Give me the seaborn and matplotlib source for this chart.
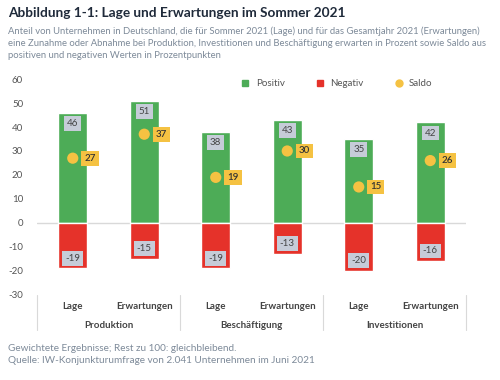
import numpy as np
import pandas as pd
import matplotlib
matplotlib.use("Agg")
import matplotlib.pyplot as plt
from matplotlib.lines import Line2D
from matplotlib.transforms import blended_transform_factory
import seaborn as sns

# data
groups = ["Produktion", "Beschäftigung", "Investitionen"]
subcats = ["Lage", "Erwartungen"]
positiv = [46, 51, 38, 43, 35, 42]
negativ = [-19, -15, -19, -13, -20, -16]
saldo = [27, 37, 19, 30, 15, 26]
yticks = [-30, -20, -10, 0, 10, 20, 30, 40, 50, 60]

GREEN = "#4dac57"
RED = "#e5322a"
YELLOW = "#f5c242"
BOXGRAY = "#c6ccd8"
TITLE = "#1f2a3a"
GRAYTXT = "#7d8a99"
AXTXT = "#555555"

sns.set_theme(style="white")
plt.rcParams["font.family"] = ["Lato", "DejaVu Sans"]

keys = [f"{g}|{c}" for g in groups for c in subcats]
df = pd.DataFrame({"key": keys, "positiv": positiv, "negativ": negativ, "saldo": saldo})

fig = plt.figure(figsize=(5, 3.8), dpi=100)
ax = fig.add_axes([0.074, 0.224, 0.858, 0.568])

sns.barplot(data=df, x="key", y="positiv", color=GREEN, width=0.4, ax=ax,
            saturation=1, zorder=2)
sns.barplot(data=df, x="key", y="negativ", color=RED, width=0.4, ax=ax,
            saturation=1, zorder=2)
sns.scatterplot(data=df, x="key", y="saldo", color=YELLOW, s=65, ax=ax,
                edgecolor="none", zorder=4)

ax.set_xlim(-0.5, len(keys) - 0.5)
ax.set_ylim(-30, 60)
ax.set_yticks(yticks)
ax.set_yticklabels([str(t) for t in yticks], fontsize=7, color=AXTXT)
ax.tick_params(axis="y", length=0, pad=10)
ax.set_xticks([])
ax.set_xlabel("")
ax.set_ylabel("")
for s in ax.spines.values():
    s.set_visible(False)
ax.axhline(0, color="#d9d9d9", lw=1, zorder=1)

# value labels
for i in range(len(keys)):
    ax.text(i, positiv[i] - 4.5, str(positiv[i]), ha="center", va="center",
            fontsize=7, color="#444444", zorder=5,
            bbox=dict(boxstyle="square,pad=0.3", fc=BOXGRAY, ec="none"))
    ax.text(i, negativ[i] + 4.3, str(negativ[i]), ha="center", va="center",
            fontsize=7, color="#444444", zorder=5,
            bbox=dict(boxstyle="square,pad=0.3", fc=BOXGRAY, ec="none"))
    ax.text(i + 0.24, saldo[i], str(saldo[i]), ha="center", va="center",
            fontsize=7, color="#333333", fontweight="semibold", zorder=5,
            bbox=dict(boxstyle="square,pad=0.3", fc=YELLOW, ec="none"))

# category axis below the plot
tr = blended_transform_factory(ax.transData, ax.transAxes)
for i in range(len(keys)):
    ax.text(i, -0.056, subcats[i % 2], transform=tr, ha="center", va="center",
            fontsize=7, color="#444444", fontweight="bold")
for g, name in enumerate(groups):
    ax.text(2 * g + 0.5, -0.14, name, transform=tr, ha="center", va="center",
            fontsize=7, color="#444444", fontweight="bold")
for xb in [-0.5, 1.5, 3.5, 5.5]:
    ax.plot([xb, xb], [0, -0.162], transform=tr, color="#d9d9d9", lw=0.8,
            clip_on=False)

# legend
handles = [
    Line2D([], [], marker="s", ls="", color=GREEN, markersize=5),
    Line2D([], [], marker="s", ls="", color=RED, markersize=5),
    Line2D([], [], marker="o", ls="", color=YELLOW, markersize=5),
]
fig.legend(handles, ["Positiv", "Negativ", "Saldo"], loc="center",
           bbox_to_anchor=(0.668, 0.779), ncol=3, frameon=False, fontsize=7,
           handletextpad=0.1, columnspacing=2.6, labelcolor="#555555")

# titles and notes
fig.text(0.016, 0.965, "Abbildung 1-1: Lage und Erwartungen im Sommer 2021",
         fontsize=9.8, fontweight="bold", color=TITLE, va="center")
fig.text(0.016, 0.887,
         "Anteil von Unternehmen in Deutschland, die für Sommer 2021 (Lage) und für das Gesamtjahr 2021 (Erwartungen)\n"
         "eine Zunahme oder Abnahme bei Produktion, Investitionen und Beschäftigung erwarten in Prozent sowie Saldo aus\n"
         "positiven und negativen Werten in Prozentpunkten",
         fontsize=6.85, color=GRAYTXT, va="center", linespacing=1.45)
fig.text(0.016, 0.067,
         "Gewichtete Ergebnisse; Rest zu 100: gleichbleibend.\n"
         "Quelle: IW-Konjunkturumfrage von 2.041 Unternehmen im Juni 2021",
         fontsize=7.2, color=GRAYTXT, va="center", linespacing=1.5)

fig.savefig("out.png", dpi=100)
